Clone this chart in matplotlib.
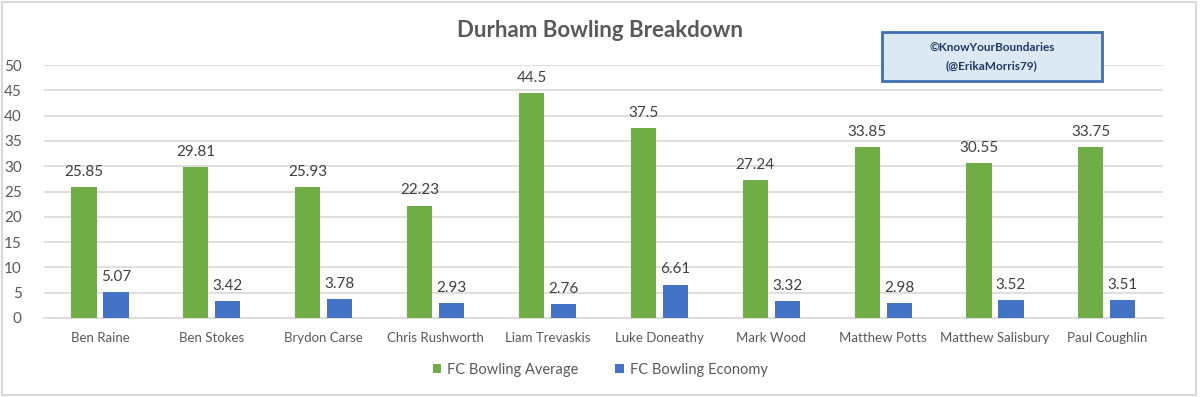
import matplotlib
matplotlib.use("Agg")
import matplotlib.pyplot as plt
import numpy as np
from matplotlib.patches import Rectangle

players = ["Ben Raine", "Ben Stokes", "Brydon Carse", "Chris Rushworth", "Liam Trevaskis",
           "Luke Doneathy", "Mark Wood", "Matthew Potts", "Matthew Salisbury", "Paul Coughlin"]
average = [25.85, 29.81, 25.93, 22.23, 44.5, 37.5, 27.24, 33.85, 30.55, 33.75]
economy = [5.07, 3.42, 3.78, 2.93, 2.76, 6.61, 3.32, 2.98, 3.52, 3.51]
avg_labels = ["25.85", "29.81", "25.93", "22.23", "44.5", "37.5", "27.24", "33.85", "30.55", "33.75"]
eco_labels = ["5.07", "3.42", "3.78", "2.93", "2.76", "6.61", "3.32", "2.98", "3.52", "3.51"]
yticks = [0, 5, 10, 15, 20, 25, 30, 35, 40, 45, 50]

plt.rcParams['font.family'] = ['Lato', 'DejaVu Sans']
GREEN = "#70AD47"
BLUE = "#4472C4"
GRAY = "#595959"

fig = plt.figure(figsize=(12, 3.97), dpi=100)
ax = fig.add_axes([0.0367, 0.199, 0.9323, 0.637])

x = np.arange(len(players))
w = 0.225
off = 0.143
b1 = ax.bar(x - off, average, w, color=GREEN, zorder=3)
b2 = ax.bar(x + off, economy, w, color=BLUE, zorder=3)

for xi, v, lab in zip(x - off, average, avg_labels):
    ax.text(xi, v + 1.6, lab, ha="center", va="bottom", fontsize=11, color="#404040")
for xi, v, lab in zip(x + off, economy, eco_labels):
    ax.text(xi, v + 1.6, lab, ha="center", va="bottom", fontsize=11, color="#404040")

ax.set_xlim(-0.5, len(players) - 0.5)
ax.set_ylim(0, 50)
ax.set_yticks(yticks)
ax.set_yticklabels([str(t) for t in yticks], fontsize=11, color=GRAY)
ax.set_xticks(x)
ax.set_xticklabels(players, fontsize=9.5, color=GRAY)
ax.tick_params(axis="both", length=0)
ax.tick_params(axis="x", pad=10)
ax.tick_params(axis="y", pad=16)
ax.grid(axis="y", color="#D9D9D9", linewidth=1.2, zorder=0)
for s in ["top", "right", "left"]:
    ax.spines[s].set_visible(False)
ax.spines["bottom"].set_color("#D9D9D9")
ax.spines["bottom"].set_linewidth(1.2)

fig.text(0.5, 0.922, "Durham Bowling Breakdown", ha="center", va="center",
         fontsize=16, fontweight="bold", color=GRAY)

leg = fig.legend([b1, b2], ["FC Bowling Average", "FC Bowling Economy"],
                 loc="center", bbox_to_anchor=(0.5, 0.068), ncol=2, frameon=False,
                 fontsize=10.5, handlelength=0.6, handleheight=0.6, columnspacing=2.5,
                 handletextpad=0.4)
for t in leg.get_texts():
    t.set_color(GRAY)

# watermark box
box = Rectangle((882 / 1200, 1 - 81 / 397), 220 / 1200, 49 / 397, transform=fig.transFigure,
                facecolor="#DCE9F5", edgecolor="#3F6EB3", linewidth=2, zorder=5)
fig.add_artist(box)
fig.text(992 / 1200, 1 - 47 / 397, "©KnowYourBoundaries", ha="center", va="center",
         fontsize=8.5, fontweight="bold", color="#1F3864", zorder=6)
fig.text(992 / 1200, 1 - 66 / 397, "(@ErikaMorris79)", ha="center", va="center",
         fontsize=8.5, fontweight="bold", color="#1F3864", zorder=6)

# outer border
border = Rectangle((2 / 1200, 2 / 397), 1194 / 1200, 393 / 397, transform=fig.transFigure,
                   facecolor="none", edgecolor="#D9D9D9", linewidth=1.5)
fig.add_artist(border)

fig.savefig("out.png", dpi=100)
